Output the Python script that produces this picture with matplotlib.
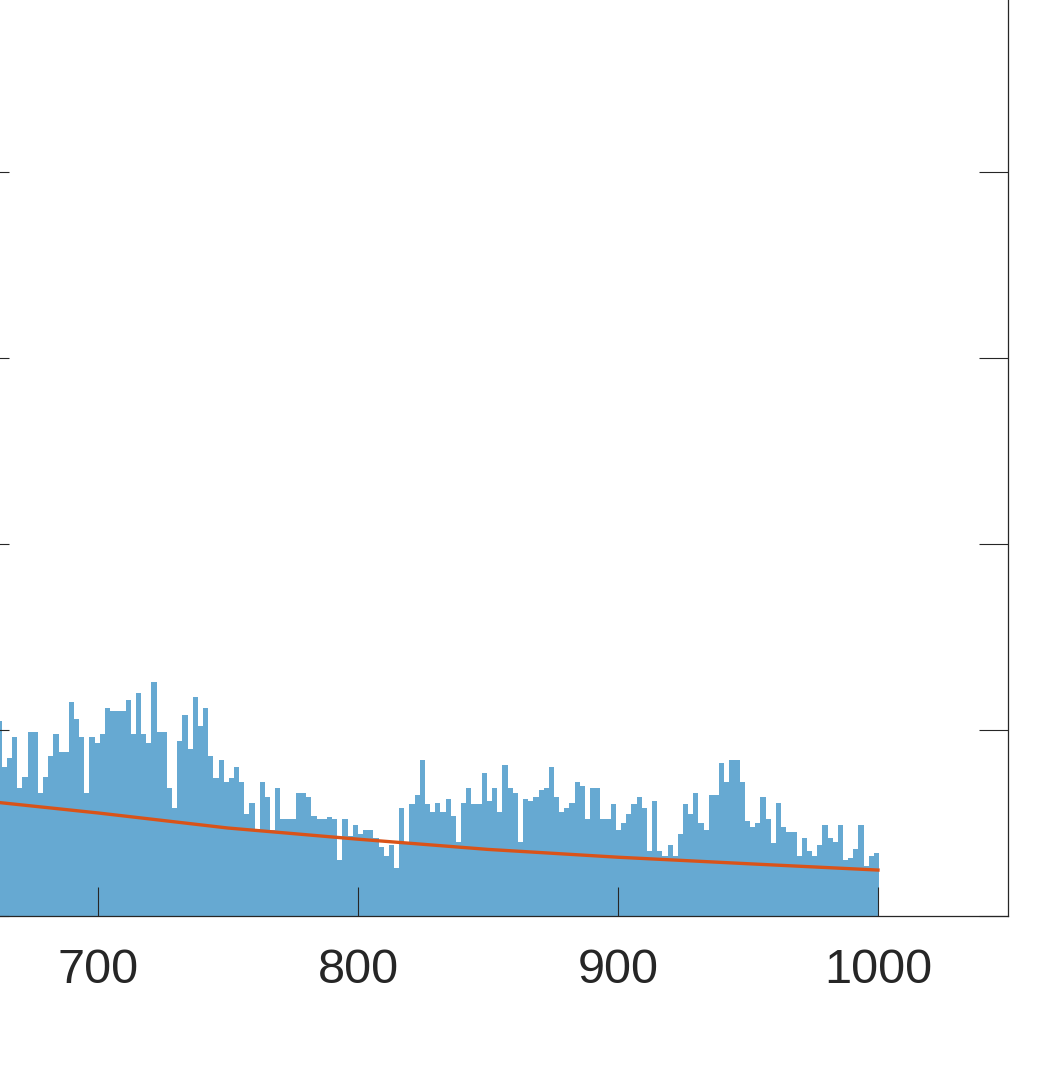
import numpy as np
import matplotlib
matplotlib.use("Agg")
import matplotlib.pyplot as plt

plt.rcParams['font.family'] = ['Liberation Sans', 'DejaVu Sans']

# histogram counts per bin, bins of ~2 units starting near 661
bin_start = 661.0
bin_width = 1.985
counts = [
    105,
    80, 85, 96, 69, 75, 99, 99, 66, 75, 86, 98,
    88, 88,
    115, 106, 96, 66, 96, 93, 98, 112,
    110, 110, 110,
    116, 98, 120, 98, 93, 126, 99, 99, 69, 58, 94, 108, 90, 118, 102, 112,
    86, 74, 84, 72, 74, 80, 72, 55, 61, 47, 72, 64, 46, 69,
    52, 52, 52,
    66, 66,
    64, 54,
    52, 52,
    53, 52, 30, 52, 43, 49, 44,
    46, 46,
    42, 37, 32, 38, 26, 58, 40, 60, 65, 84, 60, 56, 61, 56, 63, 54, 40, 61, 69,
    60, 60,
    77, 62, 69, 56, 81, 69, 66, 40, 63, 62, 64, 68, 69, 80, 64, 56, 58, 61, 72, 70, 52,
    69, 69,
    52, 52,
    60, 46, 50, 55, 60, 64, 58, 35, 62, 35, 32, 38, 32, 44, 60, 55, 66, 50, 46,
    65, 65,
    82, 72,
    84, 84,
    72, 51, 48, 50, 64, 52, 39, 61, 48,
    45, 45,
    32, 42, 35, 32, 38, 49, 42, 40, 49, 30, 31, 36, 49, 27, 32, 34,
]

# fitted curve
fit_x = [662, 700, 750, 800, 850, 900, 950, 1000]
fit_y = [61.0, 55.4, 47.3, 41.3, 35.8, 31.6, 28.1, 24.7]

x_ticks = [700, 800, 900, 1000]
y_ticks = [0, 100, 200, 300, 400, 500]

W, H = 1062, 1077
fig = plt.figure(figsize=(W / 100, H / 100), dpi=100)

# axes in pixel terms: 700 at x=98, 1000 at x=878, right edge at 1008, y=0 at 916
px_per_unit = 2.6
left_px, right_px = -20, 1008
bottom_px, top_px = 916, -80
ax = fig.add_axes([left_px / W, (H - bottom_px) / H,
                   (right_px - left_px) / W, (bottom_px - top_px) / H])

edges = bin_start + bin_width * np.arange(len(counts) + 1)
ax.stairs(counts, edges, fill=True, color='#66a9d2', linewidth=0)
ax.plot(fit_x, fit_y, color='#d95319', linewidth=2.4)

x0 = 700 - (98 - left_px) / px_per_unit
x1 = 700 + (right_px - 98) / px_per_unit
ax.set_xlim(x0, x1)
ax.set_ylim(0, (bottom_px - top_px) / 1.86)

ax.set_xticks(x_ticks)
ax.set_yticks(y_ticks)
ax.tick_params(direction='in', length=21, width=0.8, colors='#262626',
               labelsize=35, pad=23, top=True, right=True)
ax.set_yticklabels([])
for s in ax.spines.values():
    s.set_color('#262626')
    s.set_linewidth(0.9)

fig.savefig('out.png', dpi=100)
